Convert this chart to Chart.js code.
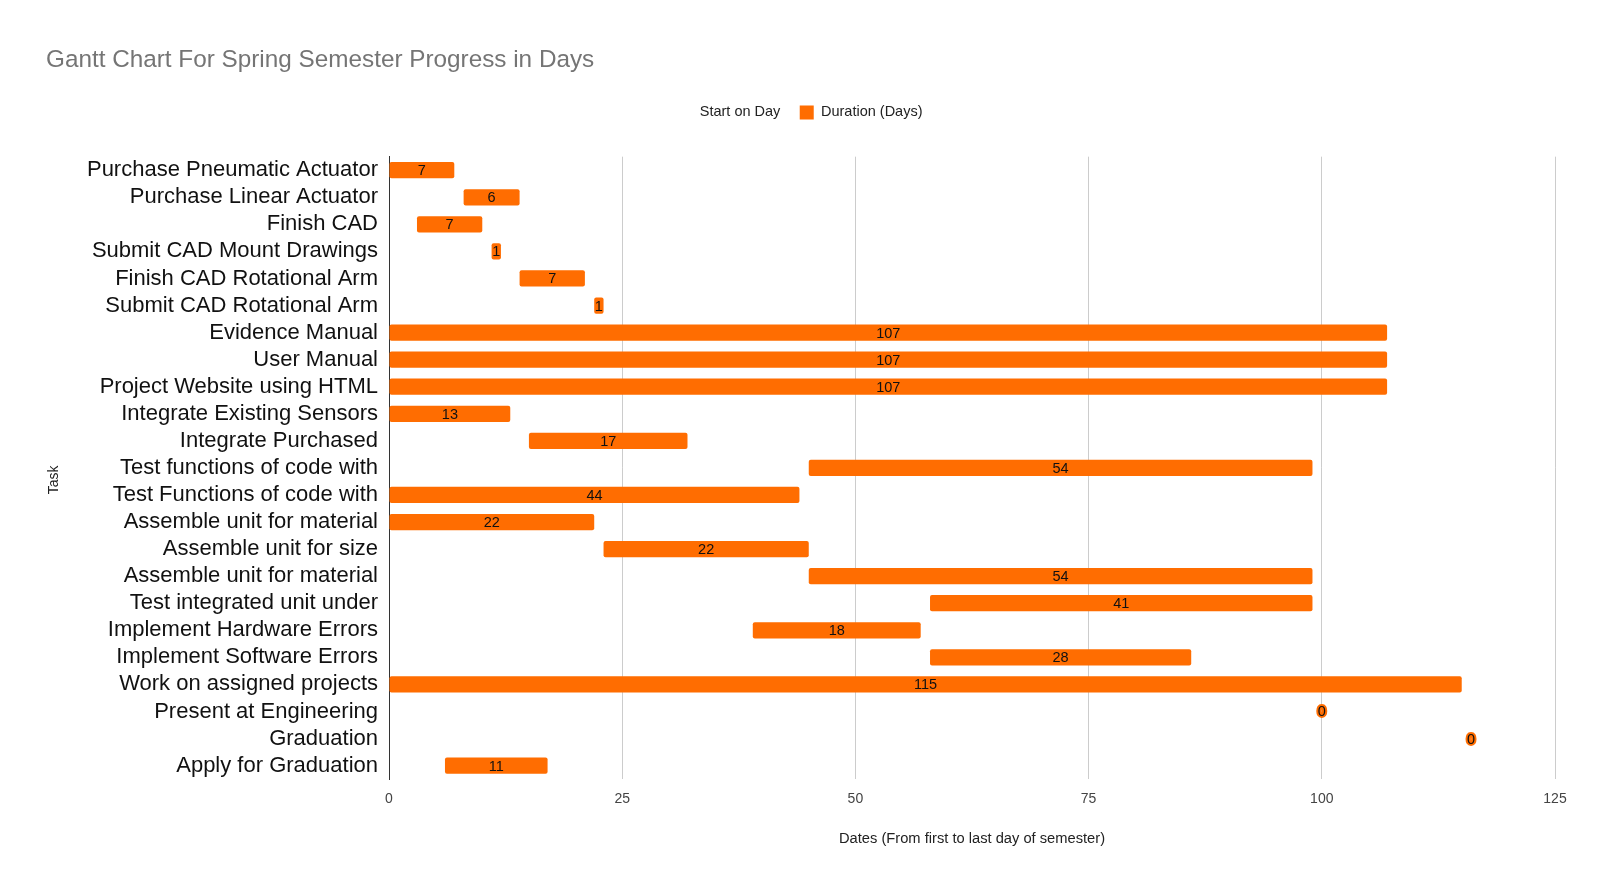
<!DOCTYPE html>
<html>
<head>
<meta charset="utf-8">
<script src="https://cdn.jsdelivr.net/npm/chart.js@4/dist/chart.umd.min.js"></script>
<style>
  html, body { margin: 0; padding: 0; background: #fff; }
  #wrap { width: 1600px; height: 891px; }
</style>
</head>
<body>
<div id="wrap"><canvas id="gantt_chart" width="1600" height="891"></canvas></div>
<script>
// tasks, top to bottom
const tasks = [
    'Purchase Pneumatic Actuator',
    'Purchase Linear Actuator',
    'Finish CAD',
    'Submit CAD Mount Drawings',
    'Finish CAD Rotational Arm',
    'Submit CAD Rotational Arm',
    'Evidence Manual',
    'User Manual',
    'Project Website using HTML',
    'Integrate Existing Sensors',
    'Integrate Purchased',
    'Test functions of code with',
    'Test Functions of code with',
    'Assemble unit for material',
    'Assemble unit for size',
    'Assemble unit for material',
    'Test integrated unit under',
    'Implement Hardware Errors',
    'Implement Software Errors',
    'Work on assigned projects',
    'Present at Engineering',
    'Graduation',
    'Apply for Graduation'
];

const start_day = [0, 8, 3, 11, 14, 22, 0, 0, 0, 0, 15, 45, 0, 0, 23, 45, 58, 39, 58, 0, 100, 116, 6];
const duration  = [7, 6, 7, 1, 7, 1, 107, 107, 107, 13, 17, 54, 44, 22, 22, 54, 41, 18, 28, 115, 0, 0, 11];

const x_ticks = [0, 25, 50, 75, 100, 125];

const ORANGE = '#ff6d01';
const FONT   = '"Liberation Sans", Arial, sans-serif';

// draws the duration value in the middle of each bar
const bar_labels = {
    id: 'bar_labels',
    afterDatasetsDraw( chart ){
        const ctx  = chart.ctx;
        const meta = chart.getDatasetMeta( 1 );
        ctx.save();
        ctx.font = '14.5px ' + FONT;
        ctx.textAlign = 'center';
        ctx.textBaseline = 'middle';
        meta.data.forEach( ( bar, i ) => {
            const cx = ( bar.x + bar.base ) / 2;
            const txt = String( duration[i] );
            if( duration[i] === 0 ){
                ctx.lineWidth = 4;
                ctx.lineJoin = 'round';
                ctx.strokeStyle = ORANGE;
                ctx.strokeText( txt, cx, bar.y + 1 );
            }
            ctx.fillStyle = '#111';
            ctx.fillText( txt, cx, bar.y + 1 );
        });
        ctx.restore();
    }
};

// "Task" axis title, sits a bit below the middle of the plot like the original
const y_title = {
    id: 'y_title',
    afterDraw( chart ){
        const ctx = chart.ctx;
        const area = chart.chartArea;
        ctx.save();
        ctx.translate( chart.scales.y.left + 8, ( area.top + area.bottom ) / 2 + 12 );
        ctx.rotate( -Math.PI / 2 );
        ctx.font = '14px ' + FONT;
        ctx.fillStyle = '#222';
        ctx.textAlign = 'center';
        ctx.textBaseline = 'middle';
        ctx.fillText( 'Task', 0, 0 );
        ctx.restore();
    }
};

// extra gap under the legend
const legend_gap = {
    id: 'legend_gap',
    beforeInit( chart ){
        const orig_fit = chart.legend.fit;
        chart.legend.fit = function(){
            orig_fit.bind( chart.legend )();
            this.height += 27;
        };
    }
};

Chart.defaults.font.family = FONT;
Chart.defaults.color = '#222';

new Chart( document.getElementById('gantt_chart'), {
    type: 'bar',
    data: {
        labels: tasks,
        datasets: [
            {
                label: 'Start on Day',
                data: start_day,
                backgroundColor: 'rgba(0,0,0,0)',
                borderWidth: 0
            },
            {
                label: 'Duration (Days)',
                data: duration,
                backgroundColor: ORANGE,
                borderRadius: 2,
                borderSkipped: false
            }
        ]
    },
    options: {
        indexAxis: 'y',
        responsive: false,
        animation: false,
        devicePixelRatio: 1,
        datasets: {
            bar: { categoryPercentage: 1, barPercentage: 0.6 }
        },
        layout: {
            padding: { left: 46, right: 45, top: 0, bottom: 43 }
        },
        plugins: {
            title: {
                display: true,
                text: 'Gantt Chart For Spring Semester Progress in Days',
                align: 'start',
                color: '#757575',
                font: { size: 24.3, weight: 'normal' },
                padding: { top: 46, bottom: 10.6 }
            },
            legend: {
                display: true,
                position: 'top',
                labels: {
                    boxWidth: 14,
                    boxHeight: 14,
                    padding: 19.4,
                    color: '#222',
                    font: { size: 14.5 }
                }
            },
            tooltip: { enabled: false }
        },
        scales: {
            x: {
                stacked: true,
                min: 0,
                max: 125,
                afterBuildTicks( scale ){
                    scale.ticks = x_ticks.map( v => ({ value: v }) );
                },
                grid: { color: '#cccccc', drawTicks: false },
                border: { display: false },
                ticks: { color: '#444', font: { size: 14 }, padding: 12 },
                title: {
                    display: true,
                    text: 'Dates (From first to last day of semester)',
                    color: '#222',
                    font: { size: 14.7 },
                    padding: { top: 10.4, bottom: 0 }
                }
            },
            y: {
                stacked: true,
                grid: { display: true, drawOnChartArea: false, drawTicks: false },
                border: { display: true, color: '#333', width: 1 },
                ticks: { color: '#111', font: { size: 22 }, padding: 11, autoSkip: false },
                afterFit( scale ){
                    scale.width = 343;
                }
            }
        }
    },
    plugins: [ bar_labels, y_title, legend_gap ]
});
</script>
</body>
</html>
